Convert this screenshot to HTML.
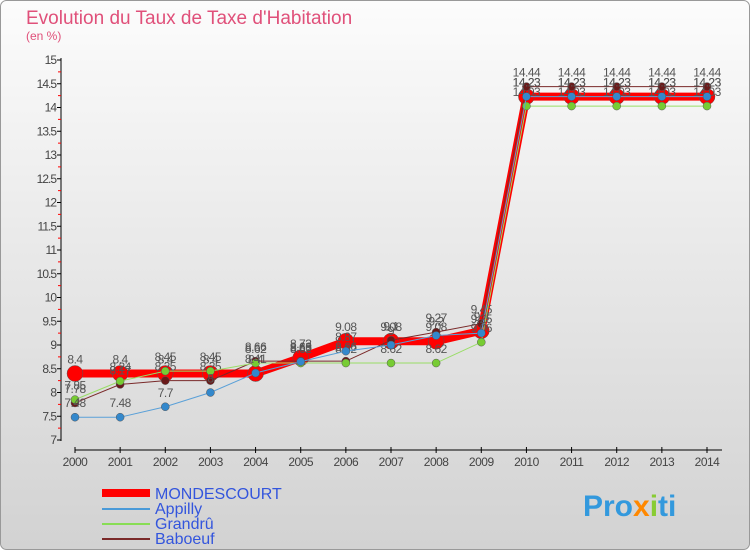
<!DOCTYPE html>
<html><head><meta charset="utf-8"><style>
body{margin:0;width:750px;height:550px;overflow:hidden;font-family:"Liberation Sans",sans-serif}
</style></head><body>
<svg id="c" width="750" height="550" xmlns="http://www.w3.org/2000/svg">
<defs><linearGradient id="bg" x1="0" y1="0" x2="0" y2="1"><stop offset="0" stop-color="#fcfcfc"/><stop offset="1" stop-color="#d2d2d2"/></linearGradient></defs>
<rect x="0.5" y="0.5" width="749" height="549" rx="6" fill="url(#bg)" stroke="#999"/>
<text x="26" y="24" font-size="19" fill="#e0507a">Evolution du Taux de Taxe d'Habitation</text>
<text x="26" y="40" font-size="12" fill="#e0507a">(en %)</text>
<g id="axes"></g><g id="series"></g>
<g>
<line x1="102" y1="493" x2="150" y2="493" stroke="#f00" stroke-width="8"/>
<text x="155" y="499" font-size="16" fill="#3355dd">MONDESCOURT</text>
<line x1="102" y1="509" x2="150" y2="509" stroke="#4a9ad8" stroke-width="2"/>
<text x="155" y="514" font-size="16" fill="#3355dd">Appilly</text>
<line x1="102" y1="524" x2="150" y2="524" stroke="#88dd55" stroke-width="2"/>
<text x="155" y="529" font-size="16" fill="#3355dd">Grandrû</text>
<line x1="102" y1="539" x2="150" y2="539" stroke="#7a2a2a" stroke-width="2"/>
<text x="155" y="544" font-size="16" fill="#3355dd">Baboeuf</text>
</g>
<text x="583" y="516" font-size="30" font-weight="bold" fill="#3399dd">Pro<tspan fill="#ff8800">x</tspan><tspan fill="#88cc33">i</tspan>ti</text>
</svg>
<script>
const years=[2000,2001,2002,2003,2004,2005,2006,2007,2008,2009,2010,2011,2012,2013,2014];
const mondescourt=[8.4,8.4,8.4,8.4,8.4,8.73,9.08,9.08,9.08,9.3,14.23,14.23,14.23,14.23,14.23];
const appilly=[7.48,7.48,7.7,8.0,8.41,8.65,8.87,9.0,9.2,9.25,14.23,14.23,14.23,14.23,14.23];
const grandru=[7.85,8.24,8.45,8.45,8.62,8.62,8.62,8.62,8.62,9.06,14.03,14.03,14.03,14.03,14.03];
const baboeuf=[7.78,8.17,8.25,8.25,8.66,8.66,8.66,9.1,9.27,9.45,14.44,14.44,14.44,14.44,14.44];
const yTicks=[7,7.5,8,8.5,9,9.5,10,10.5,11,11.5,12,12.5,13,13.5,14,14.5,15];
const NS='http://www.w3.org/2000/svg';
const X=i=>75+i*(707-75)/14, Y=v=>440-(v-7)*47.5;
function mk(t,a,p){const e=document.createElementNS(NS,t);for(const k in a)e.setAttribute(k,a[k]);p.appendChild(e);return e;}
const ax=document.getElementById('axes'), sg=document.getElementById('series');
let yl=mk('line',{x1:61,y1:58,x2:61,y2:441,stroke:'#000'},ax);


yTicks.forEach(v=>{
  mk('line',{x1:57,y1:Y(v),x2:61,y2:Y(v),stroke:'#000'},ax);
  mk('line',{x1:58,y1:Y(v+0.25),x2:61,y2:Y(v+0.25),stroke:v<15?'#f00':'none'},ax);
  const t=mk('text',{x:56,y:Y(v)+4,'text-anchor':'end','font-size':12,fill:'#444','letter-spacing':'-1'},ax);
  t.textContent=v;
  
  
});
let xl=mk('line',{x1:75,y1:450,x2:722,y2:450,stroke:'#000'},ax);


years.forEach((y,i)=>{
  mk('line',{x1:X(i),y1:447,x2:X(i),y2:453,stroke:'#000'},ax);
  const t=mk('text',{x:X(i),y:466,'text-anchor':'middle','font-size':12,fill:'#444','letter-spacing':'-0.5'},ax);
  t.textContent=y;
  
  
});
function draw(vals,color,w,r,name,fill,labelAbove){
  const g=mk('g',{},sg);
  
  
  mk('polyline',{points:vals.map((v,i)=>X(i)+','+Y(v)).join(' '),fill:'none',stroke:color,'stroke-width':w},g);
  vals.forEach((v,i)=>{
    const c=mk('circle',{cx:X(i),cy:Y(v),r:r,fill:fill,stroke:'#555','stroke-width':0.5},g);
    
    
    const t=mk('text',{x:X(i),y:Y(v)+(labelAbove?-10:-8),'text-anchor':'middle','font-size':12,fill:'#555','letter-spacing':'-0.5'},g);
    t.textContent=v;
    
    
  });
}
draw(baboeuf,'#7a2a2a',1,4,'baboeuf','#6a1a1a',true);
draw(grandru,'#99dd66',1,4,'grandru','#77cc33',true);
draw(appilly,'#5aa0d8',1,4,'appilly','#3388cc',true);
draw(mondescourt,'#ff0000',8,8,'mondescourt','#ff0000',true);
sg.insertBefore(sg.lastChild,sg.firstChild);
</script>
</body></html>
